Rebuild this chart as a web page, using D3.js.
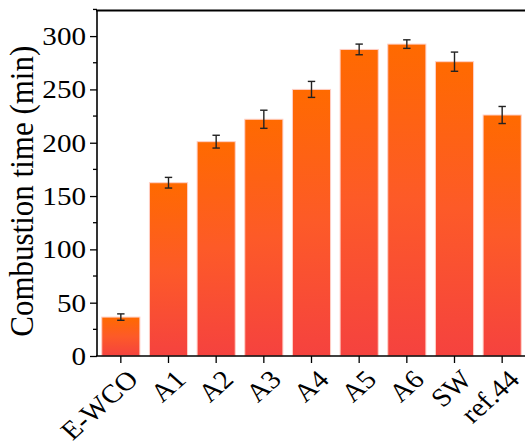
<!DOCTYPE html>
<html><head><meta charset="utf-8">
<script src="https://cdn.jsdelivr.net/npm/d3@7"></script>
<style>body{margin:0;background:#fff}svg{display:block}</style>
</head><body>
<script>
const categories = ["E-WCO","A1","A2","A3","A4","A5","A6","SW","ref.44"];
const values = [36.5, 162.5, 201, 222, 250, 287.5, 292.5, 276, 226];
const errors = [3, 5, 6, 8.5, 7.5, 5, 4, 9, 8];
const yTicks = [0,50,100,150,200,250,300];
const yMinor = [25,75,125,175,225,275,325];

(function(){
const W = 525, H = 447;
const FONT = "'Liberation Serif', 'Times New Roman', serif";
const SX = 1.12;
const svg = d3.select("body").append("svg").attr("width", W).attr("height", H);
const pL = 97, pR = 526, pT = 10.5, pB = 356;
const x = d3.scaleBand().domain(categories).range([pL, pR]).paddingInner(0.2).paddingOuter(0.1);
const y = d3.scaleLinear().domain([0, 324]).range([pB, pT]);

const defs = svg.append("defs");
const grad = defs.append("linearGradient").attr("id","g").attr("x1",0).attr("y1",0).attr("x2",0).attr("y2",1);
grad.append("stop").attr("offset","0%").attr("stop-color","#ff6a00");
grad.append("stop").attr("offset","50%").attr("stop-color","#fd5a28");
grad.append("stop").attr("offset","100%").attr("stop-color","#f5423f");

svg.append("g").selectAll("rect").data(categories).join("rect")
  .attr("x", d => x(d)).attr("width", x.bandwidth())
  .attr("y", (d,i) => y(values[i])).attr("height", (d,i) => y(0) - y(values[i]))
  .attr("fill", "url(#g)").attr("stroke", "#ffd0c8").attr("stroke-width", 1);

const eg = svg.append("g").attr("stroke", "#222").attr("stroke-width", 1.4);
categories.forEach((c,i) => {
  const cx = x(c) + x.bandwidth()/2;
  const y1 = y(values[i] + errors[i]), y2 = y(values[i] - errors[i]);
  eg.append("line").attr("x1",cx).attr("x2",cx).attr("y1",y1).attr("y2",y2);
  eg.append("line").attr("x1",cx-3.7).attr("x2",cx+3.7).attr("y1",y1).attr("y2",y1);
  eg.append("line").attr("x1",cx-3.7).attr("x2",cx+3.7).attr("y1",y2).attr("y2",y2);
});

const ya = svg.append("g").attr("transform", `translate(${pL},0)`)
  .call(d3.axisLeft(y).tickValues(yTicks).tickSize(7).tickPadding(4).tickSizeOuter(0));
ya.select(".domain").remove();
ya.selectAll(".tick line").attr("stroke","#000").attr("stroke-width",1.3);
ya.selectAll("text").attr("font-family",FONT).attr("font-size",26).attr("fill","#000")
  .attr("x",0).attr("transform",`translate(-11,0) scale(${SX},1)`);
svg.append("g").selectAll("line").data(yMinor).join("line")
  .attr("x1", pL-4).attr("x2", pL).attr("y1", d => y(d)).attr("y2", d => y(d))
  .attr("stroke","#000").attr("stroke-width",1.3);

const xa = svg.append("g").attr("transform", `translate(0,${pB})`)
  .call(d3.axisBottom(x).tickSize(7).tickSizeOuter(0).tickPadding(0));
xa.select(".domain").remove();
xa.selectAll(".tick line").attr("stroke","#000").attr("stroke-width",1.3);
xa.selectAll("text").attr("font-family",FONT).attr("font-size",26).attr("fill","#000")
  .attr("text-anchor","end").attr("dy",0).attr("y",0)
  .attr("transform",`translate(19,25) scale(${SX},1) rotate(-45)`);

svg.append("line").attr("x1",pL).attr("x2",pL).attr("y1",pT).attr("y2",pB).attr("stroke","#000").attr("stroke-width",1.6);
svg.append("line").attr("x1",pL-1).attr("x2",W).attr("y1",pB).attr("y2",pB).attr("stroke","#000").attr("stroke-width",1.6);
svg.append("line").attr("x1",pL-1).attr("x2",W).attr("y1",pT).attr("y2",pT).attr("stroke","#000").attr("stroke-width",1.8);

svg.append("text").attr("transform",`translate(33,${(pT+pB)/2+8}) scale(${SX},1) rotate(-90)`)
  .attr("text-anchor","middle").attr("font-family",FONT)
  .attr("font-size",31).attr("fill","#000").text("Combustion time (min)");
})();
</script>
</body></html>
